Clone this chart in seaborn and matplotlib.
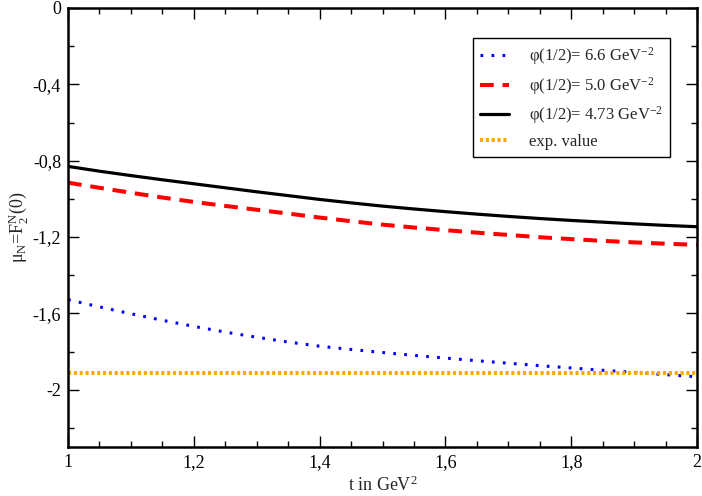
import numpy as np
import pandas as pd
import seaborn as sns
import matplotlib
matplotlib.use("Agg")
import matplotlib.pyplot as plt
from matplotlib.ticker import MultipleLocator, FuncFormatter

# values
t = [1.00, 1.05, 1.10, 1.15, 1.20, 1.25, 1.30, 1.35, 1.40, 1.45, 1.50,
     1.55, 1.60, 1.65, 1.70, 1.75, 1.80, 1.85, 1.90, 1.95, 2.00]
mu_66 = [-1.528, -1.566, -1.602, -1.636, -1.668, -1.698, -1.725, -1.750, -1.772, -1.789, -1.805,
         -1.820, -1.834, -1.848, -1.861, -1.874, -1.886, -1.898, -1.909, -1.921, -1.932]
mu_50 = [-0.915, -0.942, -0.968, -0.993, -1.016, -1.037, -1.057, -1.077, -1.098, -1.117, -1.135,
         -1.150, -1.164, -1.177, -1.189, -1.201, -1.211, -1.220, -1.228, -1.235, -1.241]
mu_473 = [-0.830, -0.855, -0.878, -0.900, -0.921, -0.942, -0.963, -0.983, -1.003, -1.021, -1.038,
          -1.053, -1.067, -1.080, -1.092, -1.103, -1.113, -1.122, -1.131, -1.139, -1.146]
exp_value = -1.91

labels = ["φ(1/2)= 6.6 GeV$^{-2}$", "φ(1/2)= 5.0 GeV$^{-2}$", "φ(1/2)= 4.73 GeV$^{-2}$"]

sns.set_theme(style="ticks")
plt.rcParams["font.family"] = ["Liberation Serif", "DejaVu Serif"]
plt.rcParams["mathtext.fontset"] = "custom"
plt.rcParams["mathtext.rm"] = "Liberation Serif"
plt.rcParams["mathtext.it"] = "Liberation Serif:italic"
plt.rcParams["axes.unicode_minus"] = False

fig = plt.figure(figsize=(7.02, 4.96), dpi=100)
ax = fig.add_axes([0.0969, 0.0988, 0.8960, 0.8851])

sns.lineplot(x=t, y=mu_66, ax=ax, color="#0000ff", lw=2.2,
             linestyle=(0, (0.9, 2.7)), label=labels[0])
sns.lineplot(x=t, y=mu_50, ax=ax, color="#ff0000", lw=2.9,
             linestyle=(0, (3.4, 2.2)), label=labels[1])
sns.lineplot(x=t, y=mu_473, ax=ax, color="black", lw=2.3, label=labels[2])
ax.axhline(exp_value, color="#ffa500", lw=2.8, linestyle=(0, (0.8, 0.7)),
           label="exp. value")

ax.set_xlim(1, 2)
ax.set_ylim(-2.3, 0)
ax.xaxis.set_major_locator(MultipleLocator(0.2))
ax.xaxis.set_minor_locator(MultipleLocator(0.05))
ax.yaxis.set_major_locator(MultipleLocator(0.4))
ax.yaxis.set_minor_locator(MultipleLocator(0.2))

def comma(v, pos):
    s = ("%.1f" % v).rstrip("0").rstrip(".")
    if s in ("-0", ""):
        s = "0"
    return s.replace(".", ",")

ax.xaxis.set_major_formatter(FuncFormatter(comma))
ax.yaxis.set_major_formatter(FuncFormatter(comma))

ax.tick_params(which="both", direction="in", top=True, right=True,
               labelsize=13, color="black", labelcolor="black")
ax.tick_params(which="major", length=8, width=1.0, pad=5)
ax.tick_params(which="minor", length=4, width=1.0)
for sp in ax.spines.values():
    sp.set_visible(True)
    sp.set_linewidth(1.8)
    sp.set_color("black")

ax.set_xlabel("t in GeV$^2$", fontsize=13, labelpad=3)
ax.set_ylabel("μ$_{\\mathrm{N}}$=F$^{\\mathrm{N}}_{2}$(0)", fontsize=13, labelpad=2)

leg = ax.legend(loc="upper right", bbox_to_anchor=(0.957, 0.932), borderaxespad=0,
                fancybox=False, frameon=True, edgecolor="black", fontsize=12,
                handlelength=1.7, handletextpad=1.2, labelspacing=0.45,
                borderpad=0.45)
leg.get_frame().set_linewidth(1.0)
leg.get_frame().set_alpha(1)

fig.savefig("out.png", dpi=100)
